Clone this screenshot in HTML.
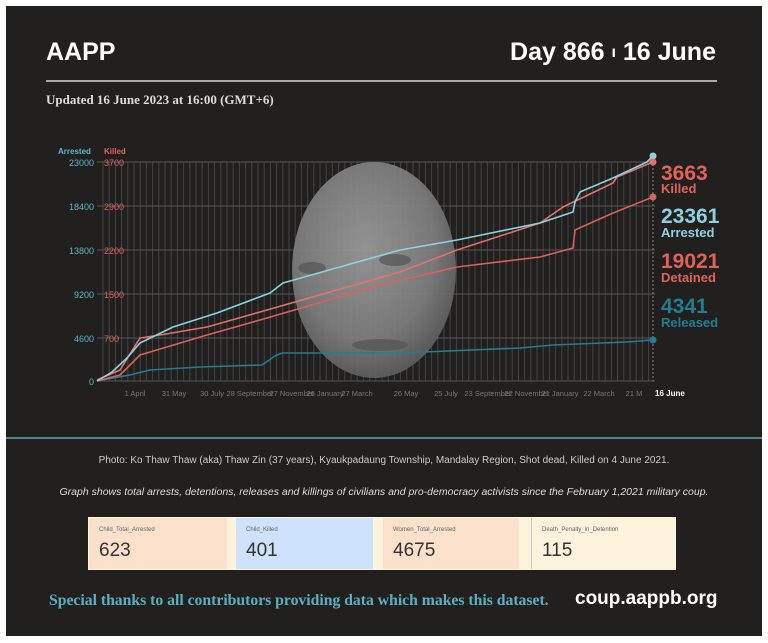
<!DOCTYPE html>
<html><head><meta charset="utf-8"><style>
html,body{margin:0;padding:0;background:#fff;width:768px;height:643px;overflow:hidden}
.p{position:absolute;left:6px;top:6px;width:756px;height:630px;background:#221f1f}
.t{position:absolute;font-family:"Liberation Sans",sans-serif;white-space:nowrap}
.card{position:absolute;top:518px;height:51px;font-family:"Liberation Sans",sans-serif}
.card .l{position:absolute;left:10px;top:9px;font-size:6px;color:#666}
.card .v{position:absolute;left:10px;top:22px;font-size:19px;color:#333}
</style></head><body>
<div class="p"></div>
<div class="t" style="left:46px;top:38px;font-size:25px;font-weight:bold;color:#fff">AAPP</div>
<div class="t" style="right:52px;top:38px;font-size:25px;font-weight:bold;color:#fff">Day 866 <span style="font-size:16px;vertical-align:3px">ı</span> 16 June</div>
<div style="position:absolute;left:46px;top:80px;width:671px;height:2px;background:#aaa"></div>
<div class="t" style="left:46px;top:92px;font-size:13px;font-weight:bold;color:#ddd;font-family:'Liberation Serif',serif">Updated 16 June 2023 at 16:00 (GMT+6)</div>
<svg style="position:absolute;left:0;top:0" width="768" height="440" font-family="Liberation Sans, sans-serif">
<defs><radialGradient id="g" cx="0.45" cy="0.4" r="0.6"><stop offset="0" stop-color="#9a9a9a"/><stop offset="0.7" stop-color="#7e7e7e"/><stop offset="1" stop-color="#5e5e5e"/></radialGradient></defs>
<g stroke="#444" stroke-width="1" id="vg"></g>
<g stroke="#555" stroke-width="1">
<line x1="97" y1="162" x2="655" y2="162"/><line x1="97" y1="206" x2="655" y2="206"/><line x1="97" y1="250" x2="655" y2="250"/><line x1="97" y1="294" x2="655" y2="294"/><line x1="97" y1="338" x2="655" y2="338"/><line x1="97" y1="381" x2="655" y2="381"/>
</g>
<line x1="653" y1="156" x2="653" y2="381" stroke="#888" stroke-dasharray="2,2"/>
<ellipse cx="374" cy="270" rx="82" ry="108" fill="url(#g)" opacity="0.93"/>
<g fill="#555" opacity="0.7"><ellipse cx="312" cy="268" rx="14" ry="6"/><ellipse cx="395" cy="260" rx="16" ry="6"/><ellipse cx="380" cy="345" rx="28" ry="6"/></g>
<g font-size="9" fill="#5bb8c9" text-anchor="end"><text x="94" y="166">23000</text><text x="94" y="210">18400</text><text x="94" y="254">13800</text><text x="94" y="298">9200</text><text x="94" y="342">4600</text><text x="94" y="385">0</text></g>
<g font-size="9" fill="#e0635b"><text x="104" y="166">3700</text><text x="104" y="210">2900</text><text x="104" y="254">2200</text><text x="104" y="298">1500</text><text x="104" y="342">700</text></g>
<text x="58" y="154" font-size="8" font-weight="bold" fill="#5bb8c9">Arrested</text>
<text x="104" y="154" font-size="8" font-weight="bold" fill="#e0635b">Killed</text>
<g font-size="7.5" fill="#777" text-anchor="middle"><text x="135" y="396">1 April</text><text x="174" y="396">31 May</text><text x="212" y="396">30 July</text><text x="250" y="396">28 September</text><text x="292" y="396">27 November</text><text x="325" y="396">26 January</text><text x="357" y="396">27 March</text><text x="406" y="396">26 May</text><text x="446" y="396">25 July</text><text x="488" y="396">23 September</text><text x="527" y="396">22 November</text><text x="560" y="396">21 January</text><text x="599" y="396">22 March</text><text x="634" y="396">21 M</text></g>
<text x="655" y="396" font-size="8" font-weight="bold" fill="#fff">16 June</text>
<g fill="none" stroke-width="1.6" stroke-linejoin="round">
<polyline stroke="#1f7f8f" points="97,381 130,375 150,370 200,367 262,365 275,356 282,353 400,353 520,348 553,345 627,342 653,340"/>
<polyline stroke="#d9625c" points="97,381 120,375 140,355 207,335 267,318 380,285 457,267 540,257 573,248 575,230 613,213 653,197"/>
<polyline stroke="#e0736b" points="97,380 120,370 140,338 160,335 207,327 267,310 400,272 457,250 540,223 563,207 613,183 617,177 653,162"/>
<polyline stroke="#8dd3df" points="97,381 112,372 127,358 140,343 173,327 217,313 270,293 283,283 400,250 457,240 540,223 573,212 575,202 580,192 613,178 647,162 653,156"/>
</g>
<circle cx="653" cy="156" r="3.5" fill="#8dd3df"/><circle cx="653" cy="162" r="3.5" fill="#e0736b"/><circle cx="653" cy="197" r="3.5" fill="#d9625c"/><circle cx="653" cy="340" r="3.5" fill="#1f7f8f"/>
<g font-weight="bold"><text x="661" y="180" font-size="21" fill="#e0635b">3663</text><text x="661" y="193" font-size="13" fill="#e0635b">Killed</text>
<text x="661" y="223" font-size="21" fill="#8dd3df">23361</text><text x="661" y="237" font-size="13" fill="#8dd3df">Arrested</text>
<text x="661" y="268" font-size="21" fill="#e0635b">19021</text><text x="661" y="282" font-size="13" fill="#e0635b">Detained</text>
<text x="661" y="313" font-size="21" fill="#1f7f8f">4341</text><text x="661" y="327" font-size="13" fill="#1f7f8f">Released</text></g>
<line x1="6" y1="438" x2="762" y2="438" stroke="#5aa8b5" stroke-width="1.5"/>
</svg>
<script>
var g=document.getElementById('vg'),s='';for(var x=103;x<653;x+=6.2){s+='<line x1="'+x+'" y1="162" x2="'+x+'" y2="381"/>';}g.innerHTML=s;
</script>
<div class="t" style="left:0;width:768px;text-align:center;top:455px;font-size:10px;color:#ccc">Photo: Ko Thaw Thaw (aka) Thaw Zin (37 years), Kyaukpadaung Township, Mandalay Region, Shot dead, Killed on 4 June 2021.</div>
<div class="t" style="left:0;width:768px;text-align:center;top:486px;font-size:10.5px;font-style:italic;color:#ddd">Graph shows total arrests, detentions, releases and killings of civilians and pro-democracy activists since the February 1,2021 military coup.</div>
<div style="position:absolute;left:88px;top:517px;width:588px;height:53px;background:#fdf2dc"></div>
<div class="card" style="left:89px;width:138px;background:#fbe0cc"><div class="l">Child_Total_Arrested</div><div class="v">623</div></div>
<div class="card" style="left:236px;width:137px;background:#cfe2fb"><div class="l">Child_Killed</div><div class="v">401</div></div>
<div class="card" style="left:383px;width:136px;background:#fbe0cc"><div class="l">Women_Total_Arrested</div><div class="v">4675</div></div>
<div class="card" style="left:531px;width:144px;background:#fdf2dc;border-left:1px solid #ccc"><div class="l">Death_Penalty_in_Detention</div><div class="v">115</div></div>
<div class="t" style="left:49px;top:592px;font-size:15.7px;font-weight:bold;color:#5ab0c0;font-family:'Liberation Serif',serif">Special thanks to all contributors providing data which makes this dataset.</div>
<div class="t" style="left:575px;top:588px;font-size:19px;font-weight:bold;color:#fff">coup.aappb.org</div>
</body></html>
